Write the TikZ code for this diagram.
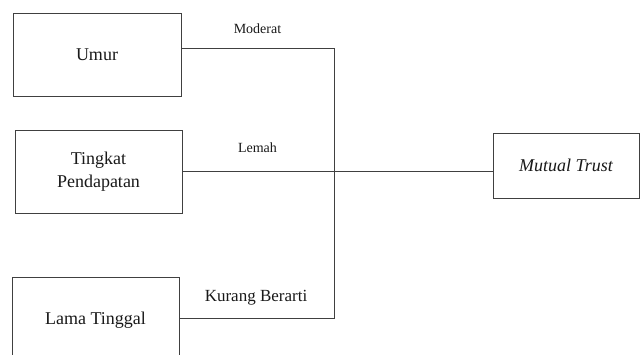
\documentclass[tikz,border=0pt]{standalone}
\usepackage{fontspec}
\setmainfont{Liberation Serif}
\begin{document}
\begin{tikzpicture}[x=1pt,y=-1pt,
  box/.style={draw=black!75,line width=0.9pt,rectangle,inner sep=0pt,align=center,font=\fontsize{18}{23}\selectfont,text=black!90},
  lbl/.style={inner sep=0pt,font=\fontsize{14}{16}\selectfont,text=black!90},
  lblbig/.style={inner sep=0pt,font=\fontsize{17}{19}\selectfont,text=black!90},
  conn/.style={draw=black!75,line width=0.9pt}]
\useasboundingbox[fill=white] (0,0) rectangle (640,354);
\node[box,minimum width=168pt,minimum height=83pt] (umur) at (97,54.5) {Umur};
\node[box,minimum width=167pt,minimum height=83pt] (ting) at (98.5,171.5) {Tingkat\\Pendapatan};
\node[box,minimum width=167pt,minimum height=86pt] (lama) at (95.5,320) {Lama Tinggal};
\node[box,minimum width=146pt,minimum height=65pt] (mt) at (566,165.5) {\itshape Mutual Trust};
\coordinate (j) at (334,172);
\draw[conn] ([yshift=6.5pt]umur.east) -| (j);
\draw[conn] ([yshift=2pt]lama.east) -| (j);
\draw[conn] (ting.east) -- (ting.east -| mt.west);
\node[lbl] (l1) at (257.5,28.5) {Moderat};
\node[lbl] (l2) at (257.5,148) {Lemah};
\node[lblbig] (l3) at (256,297.5) {Kurang Berarti};
\end{tikzpicture}
\end{document}
